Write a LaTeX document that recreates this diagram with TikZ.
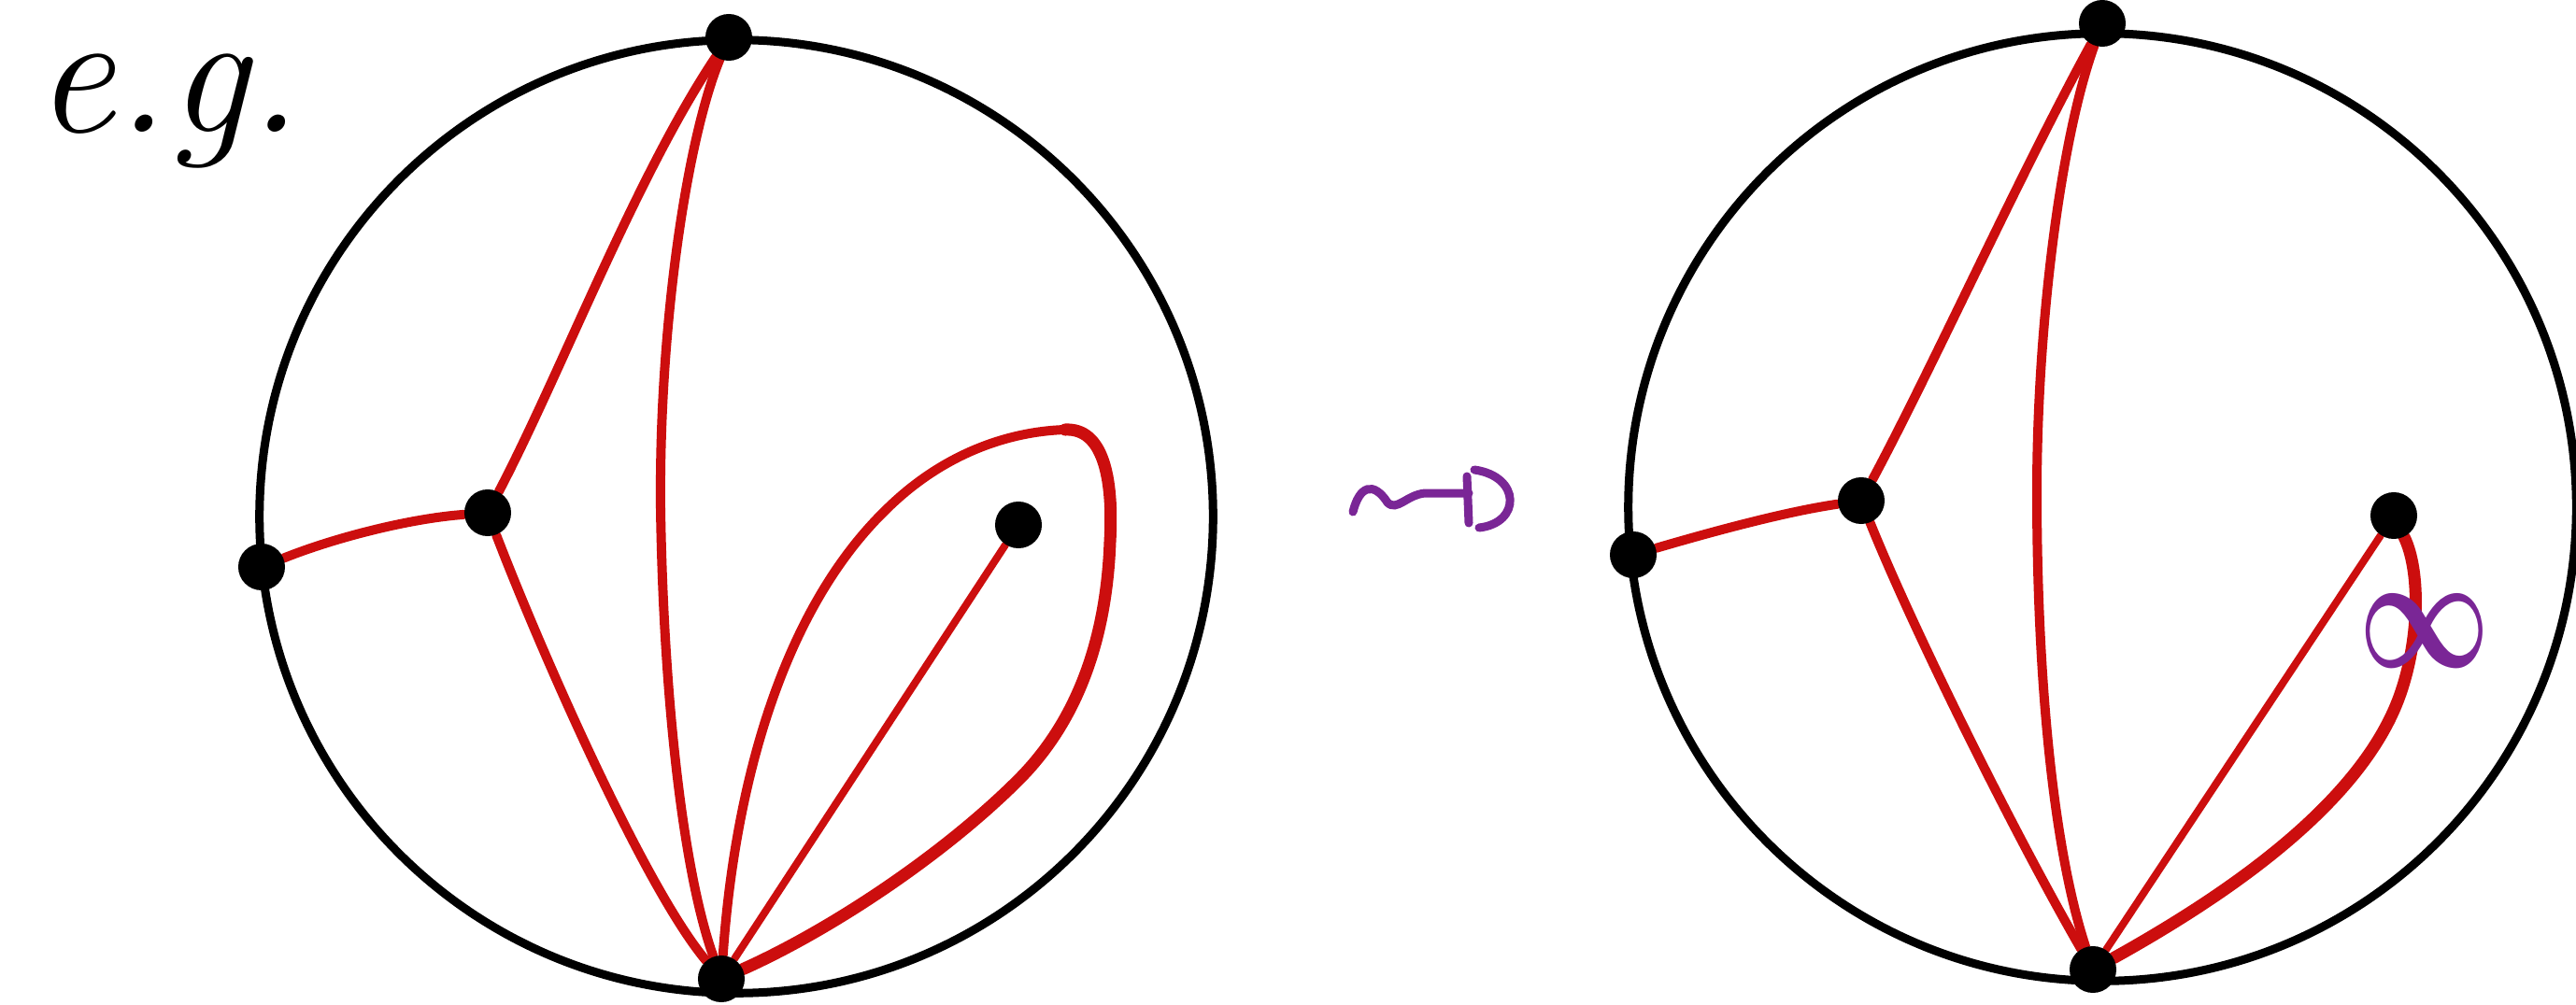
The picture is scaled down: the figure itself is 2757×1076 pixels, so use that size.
\documentclass[tikz,border=0pt]{standalone}
\usepackage{amsmath,amssymb}
\usetikzlibrary{backgrounds}
\definecolor{redline}{RGB}{204,14,14}
\definecolor{purp}{RGB}{122,38,150}
\begin{document}
\begin{tikzpicture}[x=0.01cm,y=-0.01cm,
  dotnode/.style={circle,fill=black,inner sep=0pt,minimum size=0.5cm},
  rim/.style={line width=0.09cm,black},
  chord/.style={line width=0.1cm,redline,line cap=round},
  thinchord/.style={line width=0.08cm,redline,line cap=round},
  thickchord/.style={line width=0.13cm,redline,line cap=round},
  purpline/.style={line width=0.09cm,purp,line cap=round}]
\useasboundingbox (0,0) rectangle (2757,1076);

% text
\node[anchor=base west,inner sep=2pt,font=\fontsize{54}{60}\selectfont\itshape] (eg) at (30,142) {\strut e.g.};

% ---------- left disc ----------
\node[dotnode] (LT) at (780,40) {};
\node[dotnode] (LA) at (280,607) {};
\node[dotnode] (LB) at (522,549) {};
\node[dotnode] (LI) at (1090,562) {};
\node[dotnode] (LBo) at (772,1048) {};

% ---------- right disc ----------
\node[dotnode] (RT) at (2250,25) {};
\node[dotnode] (RA) at (1748,594) {};
\node[dotnode] (RB) at (1992,536) {};
\node[dotnode] (RI) at (2562,552) {};
\node[dotnode] (RBo) at (2240,1038) {};

\coordinate (Ltop) at (1140,460);

\begin{scope}[on background layer]
\fill[white] (0,0) rectangle (2757,1076);
\draw[rim] (788,553) circle[radius=5.1cm];
\draw[rim] (2250,543) circle[radius=5.07cm];

% left edges
\draw[chord] (LA) .. controls (360,575) and (440,555) .. (LB);
\draw[chord] (LB) .. controls (600,400) and (680,190) .. (LT);
\draw[chord] (LT) .. controls (735,150) and (705,350) .. (707,545)
               .. controls (710,740) and (730,930) .. (LBo);
\draw[chord] (LB) .. controls (580,700) and (690,950) .. (LBo);
\draw[thinchord] (LBo) -- (LI);
\draw[chord] (LBo) .. controls (785,860) and (830,660) .. (949,545)
               .. controls (1010,485) and (1080,462) .. (Ltop);
\draw[thickchord] (Ltop) .. controls (1180,458) and (1192,510) .. (1188,580)
               .. controls (1184,690) and (1150,775) .. (1090,835)
               .. controls (1010,915) and (890,995) .. (LBo);

% right edges
\draw[chord] (RA) .. controls (1830,570) and (1910,548) .. (RB);
\draw[chord] (RB) .. controls (2070,390) and (2160,190) .. (RT);
\draw[chord] (RT) .. controls (2205,150) and (2180,350) .. (2180,527)
               .. controls (2180,710) and (2195,900) .. (RBo);
\draw[chord] (RB) .. controls (2050,680) and (2160,900) .. (RBo);
\draw[thinchord] (RBo) -- (RI);
\draw[thickchord] (RBo) .. controls (2380,960) and (2530,860) .. (2570,740)
               .. controls (2590,680) and (2590,610) .. (RI);
\end{scope}

% purple marks
\node[purp,inner sep=0pt,font=\fontsize{24}{28}\selectfont] (inf) at (2595,676) {\scalebox{1.4}[2.0]{$\boldsymbol{\infty}$}};
\draw[purpline] (1448,548) .. controls (1455,520) and (1470,515) .. (1485,538)
   .. controls (1495,548) and (1505,530) .. (1525,528) -- (1572,528);
\draw[purpline] (1570,510) -- (1572,560);
\draw[purpline] (1578,503) .. controls (1628,510) and (1628,560) .. (1583,565);
\end{tikzpicture}
\end{document}
